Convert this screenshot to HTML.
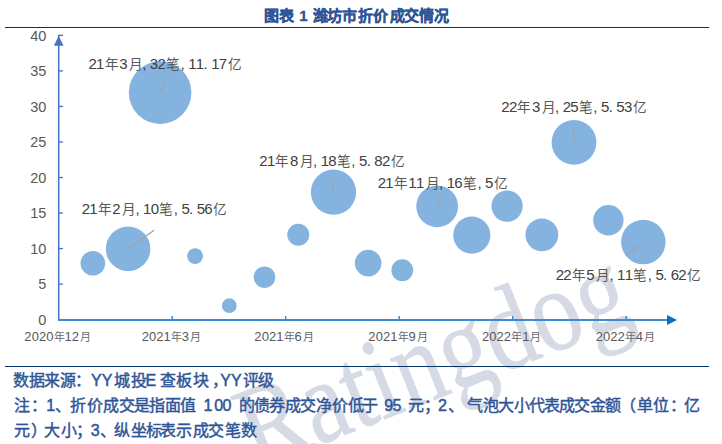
<!DOCTYPE html>
<html lang="zh-CN"><head><meta charset="utf-8"><style>
html,body{margin:0;padding:0;background:#fff;}
body{width:722px;height:444px;position:relative;overflow:hidden;font-family:"Liberation Sans",sans-serif;}
svg{position:absolute;left:0;top:0;}
svg text{font-family:"Liberation Sans",sans-serif;}
svg text.wm{font-family:"Liberation Serif",serif;}
.rule{position:absolute;left:5px;width:704px;height:1.5px;background:#073563;}
</style></head><body>
<svg width="722" height="444" viewBox="0 0 722 444">
<g transform="matrix(0.9118 -0.3592 0.4325 1.0979 256 470)"><text x="0" y="0" class="wm" font-size="100" fill="#D6DAE5" stroke="#D6DAE5" stroke-width="0.6">Ratingdog</text></g>
<circle cx="92.85" cy="263.2" r="12.3" fill="#84B3E0"/>
<circle cx="128.1" cy="248.8" r="22.3" fill="#84B3E0"/>
<circle cx="160.1" cy="92.6" r="31.3" fill="#84B3E0"/>
<circle cx="195.05" cy="256.2" r="7.9" fill="#84B3E0"/>
<circle cx="229.3" cy="305.7" r="7.35" fill="#84B3E0"/>
<circle cx="264.5" cy="277.2" r="10.8" fill="#84B3E0"/>
<circle cx="298.3" cy="234.8" r="11" fill="#84B3E0"/>
<circle cx="333.5" cy="192.2" r="22.6" fill="#84B3E0"/>
<circle cx="368.15" cy="263.1" r="13.3" fill="#84B3E0"/>
<circle cx="402.3" cy="270.2" r="10.9" fill="#84B3E0"/>
<circle cx="437.15" cy="206.3" r="20.9" fill="#84B3E0"/>
<circle cx="471.8" cy="235.1" r="18.6" fill="#84B3E0"/>
<circle cx="507.1" cy="206.1" r="15.6" fill="#84B3E0"/>
<circle cx="541.85" cy="234.8" r="16.4" fill="#84B3E0"/>
<circle cx="574.0" cy="142.4" r="22.4" fill="#84B3E0"/>
<circle cx="608.4" cy="220.3" r="15.2" fill="#84B3E0"/>
<circle cx="643.35" cy="242.1" r="22.25" fill="#84B3E0"/>
<line x1="128.3" y1="248.3" x2="154.2" y2="230.3" stroke="#A3A3A3" stroke-width="1.3"/>
<line x1="159.9" y1="91.7" x2="164.4" y2="84.8" stroke="#A3A3A3" stroke-width="1.3"/>
<line x1="333.4" y1="191.3" x2="332.0" y2="181.4" stroke="#A3A3A3" stroke-width="1.3"/>
<line x1="437.9" y1="205.4" x2="442.4" y2="196.7" stroke="#A3A3A3" stroke-width="1.3"/>
<line x1="574.0" y1="141.7" x2="574.0" y2="127.2" stroke="#A3A3A3" stroke-width="1.3"/>
<line x1="642.7" y1="242.3" x2="628.3" y2="253.8" stroke="#A3A3A3" stroke-width="1.3"/>
<line x1="58.7" y1="320.6" x2="58.7" y2="34.80" stroke="#4472C4" stroke-width="1.5"/>
<path d="M58.7 35.9 L63.6 45.8 L53.8 45.8 Z" fill="#4472C4"/>
<line x1="58.7" y1="319.60" x2="63" y2="319.60" stroke="#4472C4" stroke-width="1.3"/>
<text x="46.3" y="324.80" font-size="14.5" fill="#595959" text-anchor="end">0</text>
<line x1="58.7" y1="284.08" x2="63" y2="284.08" stroke="#4472C4" stroke-width="1.3"/>
<text x="46.3" y="289.28" font-size="14.5" fill="#595959" text-anchor="end">5</text>
<line x1="58.7" y1="248.55" x2="63" y2="248.55" stroke="#4472C4" stroke-width="1.3"/>
<text x="46.3" y="253.75" font-size="14.5" fill="#595959" text-anchor="end">10</text>
<line x1="58.7" y1="213.03" x2="63" y2="213.03" stroke="#4472C4" stroke-width="1.3"/>
<text x="46.3" y="218.23" font-size="14.5" fill="#595959" text-anchor="end">15</text>
<line x1="58.7" y1="177.50" x2="63" y2="177.50" stroke="#4472C4" stroke-width="1.3"/>
<text x="46.3" y="182.70" font-size="14.5" fill="#595959" text-anchor="end">20</text>
<line x1="58.7" y1="141.98" x2="63" y2="141.98" stroke="#4472C4" stroke-width="1.3"/>
<text x="46.3" y="147.18" font-size="14.5" fill="#595959" text-anchor="end">25</text>
<line x1="58.7" y1="106.45" x2="63" y2="106.45" stroke="#4472C4" stroke-width="1.3"/>
<text x="46.3" y="111.65" font-size="14.5" fill="#595959" text-anchor="end">30</text>
<line x1="58.7" y1="70.93" x2="63" y2="70.93" stroke="#4472C4" stroke-width="1.3"/>
<text x="46.3" y="76.13" font-size="14.5" fill="#595959" text-anchor="end">35</text>
<line x1="58.7" y1="35.40" x2="63" y2="35.40" stroke="#4472C4" stroke-width="1.3"/>
<text x="46.3" y="40.60" font-size="14.5" fill="#595959" text-anchor="end">40</text>
<line x1="58" y1="319.95" x2="668" y2="319.95" stroke="#3A8BD1" stroke-width="2"/>
<path d="M667 315 L677 320 L667 325 Z" fill="#0A6FC2"/>
<line x1="172.2" y1="316" x2="172.2" y2="319.5" stroke="#3A8BD1" stroke-width="1.5"/>
<line x1="285.7" y1="316" x2="285.7" y2="319.5" stroke="#3A8BD1" stroke-width="1.5"/>
<line x1="399.2" y1="316" x2="399.2" y2="319.5" stroke="#3A8BD1" stroke-width="1.5"/>
<line x1="512.7" y1="316" x2="512.7" y2="319.5" stroke="#3A8BD1" stroke-width="1.5"/>
<line x1="626.2" y1="316" x2="626.2" y2="319.5" stroke="#3A8BD1" stroke-width="1.5"/>
<text y="340.5" fill="#595959" ><tspan x="24.35" font-size="13">2</tspan><tspan x="31.65" font-size="13">0</tspan><tspan x="38.95" font-size="13">2</tspan><tspan x="46.25" font-size="13">0</tspan><tspan x="53.54" font-size="11" fill="#6A6A6A">年</tspan><tspan x="64.55" font-size="13">1</tspan><tspan x="71.85" font-size="13">2</tspan><tspan x="79.97" font-size="11" fill="#6A6A6A">月</tspan></text>
<text y="340.5" fill="#595959" ><tspan x="141.65" font-size="13">2</tspan><tspan x="148.95" font-size="13">0</tspan><tspan x="156.25" font-size="13">2</tspan><tspan x="163.55" font-size="13">1</tspan><tspan x="170.84" font-size="11" fill="#6A6A6A">年</tspan><tspan x="181.85" font-size="13">3</tspan><tspan x="189.98" font-size="11" fill="#6A6A6A">月</tspan></text>
<text y="340.5" fill="#595959" ><tspan x="254.35" font-size="13">2</tspan><tspan x="261.65" font-size="13">0</tspan><tspan x="268.95" font-size="13">2</tspan><tspan x="276.25" font-size="13">1</tspan><tspan x="283.54" font-size="11" fill="#6A6A6A">年</tspan><tspan x="294.55" font-size="13">6</tspan><tspan x="302.68" font-size="11" fill="#6A6A6A">月</tspan></text>
<text y="340.5" fill="#595959" ><tspan x="368.35" font-size="13">2</tspan><tspan x="375.65" font-size="13">0</tspan><tspan x="382.95" font-size="13">2</tspan><tspan x="390.25" font-size="13">1</tspan><tspan x="397.54" font-size="11" fill="#6A6A6A">年</tspan><tspan x="408.55" font-size="13">9</tspan><tspan x="416.68" font-size="11" fill="#6A6A6A">月</tspan></text>
<text y="340.5" fill="#595959" ><tspan x="481.95" font-size="13">2</tspan><tspan x="489.25" font-size="13">0</tspan><tspan x="496.55" font-size="13">2</tspan><tspan x="503.85" font-size="13">2</tspan><tspan x="511.14" font-size="11" fill="#6A6A6A">年</tspan><tspan x="522.15" font-size="13">1</tspan><tspan x="530.28" font-size="11" fill="#6A6A6A">月</tspan></text>
<text y="340.5" fill="#595959" ><tspan x="595.65" font-size="13">2</tspan><tspan x="602.95" font-size="13">0</tspan><tspan x="610.25" font-size="13">2</tspan><tspan x="617.55" font-size="13">2</tspan><tspan x="624.84" font-size="11" fill="#6A6A6A">年</tspan><tspan x="635.85" font-size="13">4</tspan><tspan x="643.97" font-size="11" fill="#6A6A6A">月</tspan></text>
<text y="68.7" fill="#404040" ><tspan x="88.45" font-size="15">2</tspan><tspan x="96.10" font-size="15">1</tspan><tspan x="104.64" font-size="13.6" fill="#5A5A5A">年</tspan><tspan x="119.15" font-size="15">3</tspan><tspan x="128.72" font-size="13.6" fill="#5A5A5A">月</tspan><tspan x="142.20" font-size="15">,</tspan><tspan x="149.85" font-size="15">3</tspan><tspan x="157.50" font-size="15">2</tspan><tspan x="166.19" font-size="13.6" fill="#5A5A5A">笔</tspan><tspan x="180.55" font-size="15">,</tspan><tspan x="188.20" font-size="15">1</tspan><tspan x="195.85" font-size="15">1</tspan><tspan x="203.50" font-size="15">.</tspan><tspan x="211.15" font-size="15">1</tspan><tspan x="218.80" font-size="15">7</tspan><tspan x="227.56" font-size="13.6" fill="#5A5A5A">亿</tspan></text>
<text y="213.6" fill="#404040" ><tspan x="81.65" font-size="15">2</tspan><tspan x="89.30" font-size="15">1</tspan><tspan x="97.84" font-size="13.6" fill="#5A5A5A">年</tspan><tspan x="112.35" font-size="15">2</tspan><tspan x="121.92" font-size="13.6" fill="#5A5A5A">月</tspan><tspan x="135.40" font-size="15">,</tspan><tspan x="143.05" font-size="15">1</tspan><tspan x="150.70" font-size="15">0</tspan><tspan x="159.39" font-size="13.6" fill="#5A5A5A">笔</tspan><tspan x="173.75" font-size="15">,</tspan><tspan x="181.40" font-size="15">5</tspan><tspan x="189.05" font-size="15">.</tspan><tspan x="196.70" font-size="15">5</tspan><tspan x="204.35" font-size="15">6</tspan><tspan x="213.11" font-size="13.6" fill="#5A5A5A">亿</tspan></text>
<text y="165.6" fill="#404040" ><tspan x="259.25" font-size="15">2</tspan><tspan x="266.90" font-size="15">1</tspan><tspan x="275.44" font-size="13.6" fill="#5A5A5A">年</tspan><tspan x="289.95" font-size="15">8</tspan><tspan x="299.52" font-size="13.6" fill="#5A5A5A">月</tspan><tspan x="313.00" font-size="15">,</tspan><tspan x="320.65" font-size="15">1</tspan><tspan x="328.30" font-size="15">8</tspan><tspan x="336.99" font-size="13.6" fill="#5A5A5A">笔</tspan><tspan x="351.35" font-size="15">,</tspan><tspan x="359.00" font-size="15">5</tspan><tspan x="366.65" font-size="15">.</tspan><tspan x="374.30" font-size="15">8</tspan><tspan x="381.95" font-size="15">2</tspan><tspan x="390.71" font-size="13.6" fill="#5A5A5A">亿</tspan></text>
<text y="187.6" fill="#404040" ><tspan x="377.65" font-size="15">2</tspan><tspan x="385.30" font-size="15">1</tspan><tspan x="393.84" font-size="13.6" fill="#5A5A5A">年</tspan><tspan x="408.35" font-size="15">1</tspan><tspan x="416.00" font-size="15">1</tspan><tspan x="425.57" font-size="13.6" fill="#5A5A5A">月</tspan><tspan x="439.05" font-size="15">,</tspan><tspan x="446.70" font-size="15">1</tspan><tspan x="454.35" font-size="15">6</tspan><tspan x="463.04" font-size="13.6" fill="#5A5A5A">笔</tspan><tspan x="477.40" font-size="15">,</tspan><tspan x="485.05" font-size="15">5</tspan><tspan x="493.81" font-size="13.6" fill="#5A5A5A">亿</tspan></text>
<text y="111.6" fill="#404040" ><tspan x="501.25" font-size="15">2</tspan><tspan x="508.90" font-size="15">2</tspan><tspan x="517.44" font-size="13.6" fill="#5A5A5A">年</tspan><tspan x="531.95" font-size="15">3</tspan><tspan x="541.52" font-size="13.6" fill="#5A5A5A">月</tspan><tspan x="555.00" font-size="15">,</tspan><tspan x="562.65" font-size="15">2</tspan><tspan x="570.30" font-size="15">5</tspan><tspan x="578.99" font-size="13.6" fill="#5A5A5A">笔</tspan><tspan x="593.35" font-size="15">,</tspan><tspan x="601.00" font-size="15">5</tspan><tspan x="608.65" font-size="15">.</tspan><tspan x="616.30" font-size="15">5</tspan><tspan x="623.95" font-size="15">3</tspan><tspan x="632.71" font-size="13.6" fill="#5A5A5A">亿</tspan></text>
<text y="279.6" fill="#404040" ><tspan x="555.65" font-size="15">2</tspan><tspan x="563.30" font-size="15">2</tspan><tspan x="571.84" font-size="13.6" fill="#5A5A5A">年</tspan><tspan x="586.35" font-size="15">5</tspan><tspan x="595.92" font-size="13.6" fill="#5A5A5A">月</tspan><tspan x="609.40" font-size="15">,</tspan><tspan x="617.05" font-size="15">1</tspan><tspan x="624.70" font-size="15">1</tspan><tspan x="633.39" font-size="13.6" fill="#5A5A5A">笔</tspan><tspan x="647.75" font-size="15">,</tspan><tspan x="655.40" font-size="15">5</tspan><tspan x="663.05" font-size="15">.</tspan><tspan x="670.70" font-size="15">6</tspan><tspan x="678.35" font-size="15">2</tspan><tspan x="687.11" font-size="13.6" fill="#5A5A5A">亿</tspan></text>
<text y="20.6" font-size="15" fill="#2F5597" font-weight="bold" stroke="#2F5597" stroke-width="0.3"><tspan x="263.62">图</tspan><tspan x="279.08">表</tspan><tspan x="299.36">1</tspan><tspan x="312.94">潍</tspan><tspan x="327.31">坊</tspan><tspan x="342.06">市</tspan><tspan x="357.81">折</tspan><tspan x="373.24">价</tspan><tspan x="389.62">成</tspan><tspan x="403.74">交</tspan><tspan x="419.05">情</tspan><tspan x="434.35">况</tspan></text>
<text y="385.8" font-size="16" fill="#2F5597" stroke="#2F5597" stroke-width="0.45"><tspan x="13.28">数</tspan><tspan x="28.94">据</tspan><tspan x="44.36">来</tspan><tspan x="59.79">源</tspan><tspan x="75.12">：</tspan><tspan x="91.05">Y</tspan><tspan x="101.72">Y</tspan><tspan x="114.04">城</tspan><tspan x="130.66">投</tspan><tspan x="145.59">E</tspan><tspan x="159.92">查</tspan><tspan x="176.49">板</tspan><tspan x="192.92">块</tspan><tspan x="211.64">，</tspan><tspan x="220.25">Y</tspan><tspan x="230.92">Y</tspan><tspan x="243.21">评</tspan><tspan x="257.90">级</tspan></text>
<text y="411.2" font-size="16" fill="#2F5597" stroke="#2F5597" stroke-width="0.45"><tspan x="13.53">注</tspan><tspan x="31.32">：</tspan><tspan x="46.18">1</tspan><tspan x="54.87">、</tspan><tspan x="70.09">折</tspan><tspan x="86.71">价</tspan><tspan x="102.52">成</tspan><tspan x="118.95">交</tspan><tspan x="133.64">是</tspan><tspan x="149.40">指</tspan><tspan x="164.77">面</tspan><tspan x="180.19">值</tspan><tspan x="203.58">1</tspan><tspan x="214.18">0</tspan><tspan x="222.38">0</tspan><tspan x="239.11">的</tspan><tspan x="253.51">债</tspan><tspan x="268.56">券</tspan><tspan x="285.12">成</tspan><tspan x="299.95">交</tspan><tspan x="315.73">净</tspan><tspan x="331.61">价</tspan><tspan x="347.65">低</tspan><tspan x="361.62">于</tspan><tspan x="384.15">9</tspan><tspan x="392.56">5</tspan><tspan x="408.23">元</tspan><tspan x="424.16">；</tspan><tspan x="438.10">2</tspan><tspan x="448.07">、</tspan><tspan x="466.75">气</tspan><tspan x="483.49">泡</tspan><tspan x="498.41">大</tspan><tspan x="514.39">小</tspan><tspan x="528.66">代</tspan><tspan x="544.22">表</tspan><tspan x="559.12">成</tspan><tspan x="573.95">交</tspan><tspan x="590.32">金</tspan><tspan x="605.18">额</tspan><tspan x="620.38">（</tspan><tspan x="637.34">单</tspan><tspan x="653.39">位</tspan><tspan x="669.52">：</tspan><tspan x="684.20">亿</tspan></text>
<text y="435.8" font-size="16" fill="#2F5597" stroke="#2F5597" stroke-width="0.45"><tspan x="14.03">元</tspan><tspan x="30.56">）</tspan><tspan x="44.21">大</tspan><tspan x="60.89">小</tspan><tspan x="75.56">；</tspan><tspan x="90.79">3</tspan><tspan x="100.27">、</tspan><tspan x="114.16">纵</tspan><tspan x="130.61">坐</tspan><tspan x="146.12">标</tspan><tspan x="159.92">表</tspan><tspan x="176.44">示</tspan><tspan x="192.92">成</tspan><tspan x="208.25">交</tspan><tspan x="224.92">笔</tspan><tspan x="241.38">数</tspan></text>
</svg>
<div class="rule" style="top:26.7px"></div>
<div class="rule" style="top:365.9px;height:1.25px;width:703.5px"></div>
</body></html>
